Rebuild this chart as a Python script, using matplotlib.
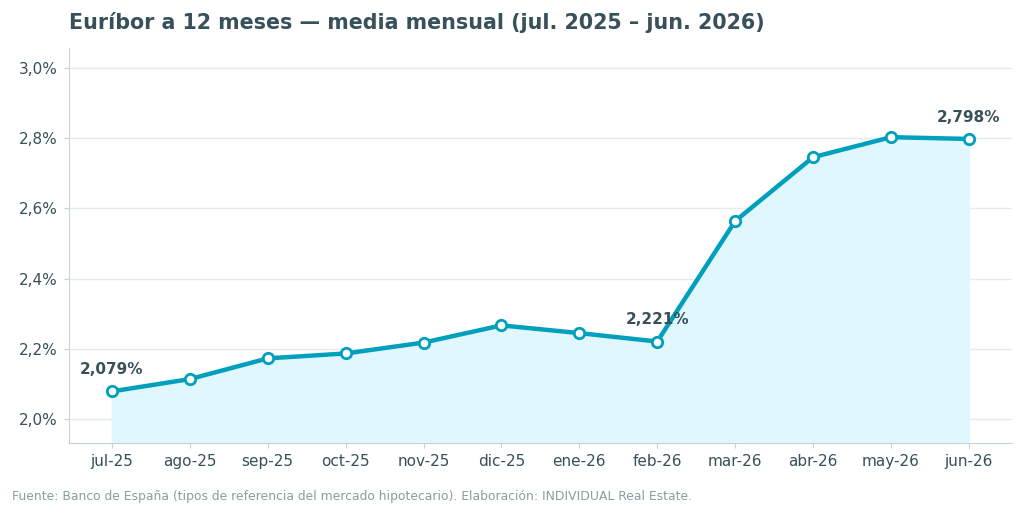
import numpy as np
import matplotlib.pyplot as plt

# datos: Euríbor 12 meses, media mensual (%)
meses = ['jul-25', 'ago-25', 'sep-25', 'oct-25', 'nov-25', 'dic-25',
         'ene-26', 'feb-26', 'mar-26', 'abr-26', 'may-26', 'jun-26']
euribor = [2.079, 2.114, 2.173, 2.187, 2.218, 2.267,
           2.245, 2.221, 2.564, 2.746, 2.803, 2.798]
# puntos con etiqueta
etiquetas = [0, 7, 11]

color_linea = '#00a0bd'
color_texto = '#37505a'

fig = plt.figure(figsize=(10.24, 5.15), dpi=100)
ax = fig.add_axes([0.0674, 0.1398, 0.9206, 0.767])

x = np.arange(len(meses))
ax.fill_between(x, euribor, 1.9, color='#e0f7fd', zorder=1)
ax.plot(x, euribor, color=color_linea, lw=3.2, marker='o', ms=7.5,
        mfc='white', mec=color_linea, mew=2, zorder=3)

for i in etiquetas:
    ax.annotate(f'{euribor[i]:.3f}%'.replace('.', ','), (x[i], euribor[i]),
                xytext=(0, 12.5), textcoords='offset points', ha='center',
                fontsize=11, fontweight='bold', color=color_texto)

ax.set_xlim(-0.55, 11.55)
ax.set_ylim(1.932, 3.057)
ax.set_xticks(x)
ax.set_xticklabels(meses)
yt = [2.0, 2.2, 2.4, 2.6, 2.8, 3.0]
ax.set_yticks(yt)
ax.set_yticklabels([f'{v:.1f}%'.replace('.', ',') for v in yt])
ax.tick_params(colors='#c5d3d6', labelcolor=color_texto, labelsize=11, pad=4.5)
ax.grid(axis='y', color='#e3ebec', lw=1)
ax.set_axisbelow(True)
for s in ['top', 'right']:
    ax.spines[s].set_visible(False)
for s in ['left', 'bottom']:
    ax.spines[s].set_color('#c5d3d6')

fig.text(0.0674, 0.957, 'Euríbor a 12 meses — media mensual (jul. 2025 – jun. 2026)',
         fontsize=14.9, fontweight='bold', color=color_texto, va='center')
fig.text(0.012, 0.036, 'Fuente: Banco de España (tipos de referencia del mercado hipotecario). '
         'Elaboración: INDIVIDUAL Real Estate.', fontsize=8.95, color='#8a9d9d', va='center')

fig.savefig('out.png', dpi=100)
